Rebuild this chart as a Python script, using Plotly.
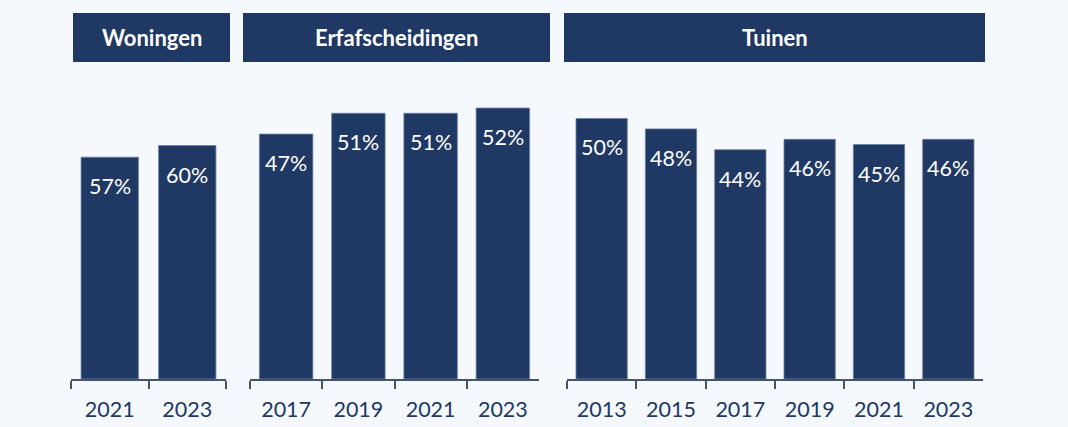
import plotly.graph_objects as go

# Data
panels = ["Woningen", "Erfafscheidingen", "Tuinen"]
woningen_years = ["2021", "2023"]
woningen_values = [57, 60]
erf_years = ["2017", "2019", "2021", "2023"]
erf_values = [47, 51, 51, 52]
tuinen_years = ["2013", "2015", "2017", "2019", "2021", "2023"]
tuinen_values = [50, 48, 44, 46, 45, 46]

W, H = 1068, 427
BAR = "#203864"
BG = "#F5F8FC"
AXIS = "#44546A"
FONT = "Lato"

def px(x):
    return x / W

def py(y):
    return 1 - y / H

series = [(woningen_years, woningen_values), (erf_years, erf_values), (tuinen_years, tuinen_values)]
xdomains = [(71, 226), (250, 539), (567, 983)]
yranges = [79.4, 59.3, 59.3]
header_boxes = [(73, 230), (243, 550), (564, 985)]

fig = go.Figure()
annotations = []
shapes = []
for i, ((cats, vals), (x0, x1), yr, name, (hx0, hx1)) in enumerate(
        zip(series, xdomains, yranges, panels, header_boxes)):
    n = i + 1
    xa = "x" if n == 1 else f"x{n}"
    ya = "y" if n == 1 else f"y{n}"
    fig.add_trace(go.Bar(
        x=cats, y=vals, xaxis=xa, yaxis=ya,
        marker=dict(color=BAR, line=dict(color="#6F82A3", width=0.8)),
        hoverinfo="skip", showlegend=False,
    ))
    xkey = "xaxis" if n == 1 else f"xaxis{n}"
    ykey = "yaxis" if n == 1 else f"yaxis{n}"
    fig.layout[xkey] = dict(
        domain=[px(x0), px(x1)], anchor=ya, type="category",
        range=[-0.5, len(cats) - 0.5], tickson="boundaries",
        ticks="outside", ticklen=8, tickwidth=1.5, tickcolor=AXIS,
        showline=True, linecolor=AXIS, linewidth=1.5,
        showgrid=False, zeroline=False, fixedrange=True,
        tickfont=dict(family=FONT, size=21.5, color=BAR),
        ticklabelstandoff=10,
    )
    fig.layout[ykey] = dict(
        domain=[py(379), py(70)], anchor=xa, range=[0, yr],
        visible=False, showgrid=False, zeroline=False, fixedrange=True,
    )
    for j, v in enumerate(vals):
        annotations.append(dict(
            x=j, y=v, xref=xa, yref=ya, text=f"{v}%", showarrow=False,
            yanchor="middle", yshift=-29,
            font=dict(family=FONT, size=21.5, color="white"),
        ))
    shapes.append(dict(
        type="rect", xref="paper", yref="paper",
        x0=px(hx0), x1=px(hx1), y0=py(62), y1=py(13),
        fillcolor=BAR, line=dict(width=0), layer="below",
    ))
    annotations.append(dict(
        x=px((hx0 + hx1) / 2), y=py(37.5), xref="paper", yref="paper",
        text=f"<b>{name}</b>", showarrow=False, xanchor="center", yanchor="middle",
        font=dict(family=FONT, size=22, color="white"),
    ))

fig.update_layout(
    width=W, height=H, margin=dict(l=0, r=0, t=0, b=0),
    paper_bgcolor=BG, plot_bgcolor=BG, bargap=0.26,
    annotations=annotations, shapes=shapes,
)
fig.write_html("out.html", config={"displayModeBar": False},
               post_script="document.body.style.margin='0';document.body.style.background='%s';" % BG)
